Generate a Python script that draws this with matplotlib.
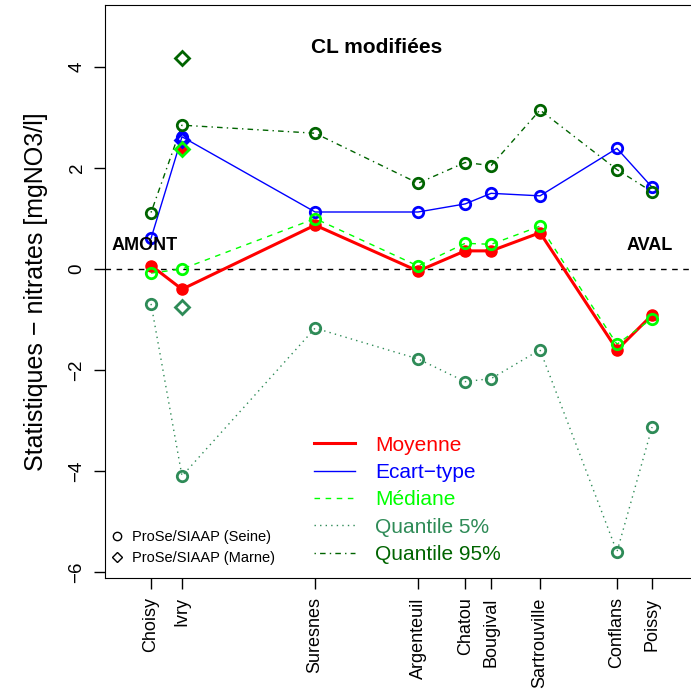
import numpy as np
import matplotlib.pyplot as plt
from matplotlib.lines import Line2D

plt.rcParams['font.family'] = ['Liberation Sans', 'DejaVu Sans']

# stations along the Seine (distance from Choisy, km)
stations = ['Choisy', 'Ivry', 'Suresnes', 'Argenteuil', 'Chatou', 'Bougival',
            'Sartrouville', 'Conflans', 'Poissy']
dist = [0, 11.9, 63.1, 102.7, 120.8, 130.8, 149.6, 179.2, 192.7]

# statistics at Seine stations (mgNO3/l)
moyenne = [0.07, -0.40, 0.87, -0.04, 0.36, 0.36, 0.72, -1.60, -0.91]
ecart_type = [0.61, 2.62, 1.13, 1.13, 1.29, 1.50, 1.45, 2.39, 1.62]
mediane = [-0.08, 0.00, 1.00, 0.06, 0.51, 0.49, 0.85, -1.49, -0.98]
q05 = [-0.69, -4.10, -1.17, -1.78, -2.23, -2.17, -1.60, -5.60, -3.13]
q95 = [1.12, 2.85, 2.69, 1.70, 2.11, 2.05, 3.15, 1.97, 1.53]

# Marne station (Ivry)
marne_x = 11.9
marne_moy = 2.37
marne_et = 2.55
marne_med = 2.38
marne_q05 = -0.76
marne_q95 = 4.18

fig = plt.figure(figsize=(6.91, 6.95), dpi=100)
ax = fig.add_axes([0.152, 0.1683, 0.853, 0.8245])

ax.axhline(0, color='black', lw=1, ls=(0, (4, 4)))

series = [
    ('Moyenne', moyenne, marne_moy, 'red', 2.2, '-'),
    ('Ecart\u2212type', ecart_type, marne_et, 'blue', 1.0, '-'),
    ('Médiane', mediane, marne_med, '#00ff00', 1.0, (0, (4, 4))),
    ('Quantile 5%', q05, marne_q05, '#2e8b57', 1.0, (0, (1, 3))),
    ('Quantile 95%', q95, marne_q95, '#006400', 1.0, (0, (1, 3, 4, 3))),
]

handles = []
for name, vals, mval, col, lw, ls in series:
    ax.plot(dist, vals, color=col, lw=lw, ls=ls, zorder=2)
    if name == 'Moyenne':
        ax.plot(dist, vals, 'o', ms=8, mfc=col, mec=col, zorder=3)
        ax.plot(marne_x, mval, 'D', ms=5, mfc=col, mec=col, zorder=3)
    else:
        ax.plot(dist, vals, 'o', ms=7.5, mfc='none', mec=col, mew=2, zorder=3)
        ax.plot(marne_x, mval, 'D', ms=7.5, mfc='none', mec=col, mew=2, zorder=3)
    handles.append(Line2D([], [], color=col, lw=lw, ls=ls, label=name))

ax.set_xlim(-17.7, 209)
ax.set_ylim(-6.12, 5.23)
ax.set_xticks(dist)
ax.set_xticklabels(stations, rotation=90, fontsize=13)
ax.set_yticks([-6, -4, -2, 0, 2, 4])
ax.set_yticklabels(['\u22126', '\u22124', '\u22122', '0', '2', '4'], rotation=90,
                   fontsize=13.5, va='center')
ax.tick_params(length=8, width=1, pad=6)
ax.set_ylabel('Statistiques \u2212 nitrates [mgNO3/l]', fontsize=18, labelpad=15)

ax.text(0.46, 0.925, 'CL modifiées', transform=ax.transAxes, fontsize=15,
        fontweight='bold', ha='center', va='center')
ax.text(dist[0] - 2.5, 0.3, 'AMONT', fontsize=13, fontweight='bold', ha='center', va='bottom')
ax.text(dist[-1] - 1, 0.3, 'AVAL', fontsize=13, fontweight='bold', ha='center', va='bottom')

leg = ax.legend(handles=handles, loc='upper left', bbox_to_anchor=(0.322, 0.281),
                frameon=False, fontsize=15, handlelength=2.0, handletextpad=0.96,
                labelspacing=0.4, labelcolor='linecolor')
ax.add_artist(leg)

mk = [Line2D([], [], marker='o', ls='none', mfc='none', mec='black', ms=6,
             label='ProSe/SIAAP (Seine)'),
      Line2D([], [], marker='D', ls='none', mfc='none', mec='black', ms=5.5,
             label='ProSe/SIAAP (Marne)')]
ax.legend(handles=mk, loc='lower left', bbox_to_anchor=(-0.014, 0.0), frameon=False,
          fontsize=10.5, handlelength=1.0, handletextpad=0.5, labelspacing=0.45)

ax.spines['right'].set_visible(False)

fig.savefig('out.png', dpi=100)
